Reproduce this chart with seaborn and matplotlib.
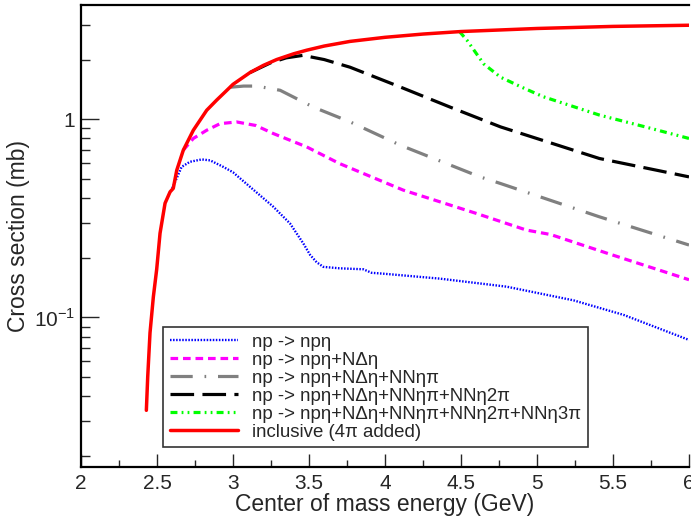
import numpy as np
import pandas as pd
import seaborn as sns
import matplotlib
matplotlib.use("Agg")
import matplotlib.pyplot as plt
from matplotlib.ticker import FixedLocator, FixedFormatter, LogLocator, NullFormatter, MultipleLocator

# values (x in GeV, y in mb)
red_x = [2.43, 2.439, 2.454, 2.476, 2.498, 2.52, 2.553, 2.586, 2.607, 2.63, 2.673,
         2.739, 2.827, 2.893, 2.947, 3.0, 3.112, 3.2, 3.287, 3.4, 3.485, 3.6, 3.77,
         4.0, 4.25, 4.5, 5.0, 5.5, 6.0]
red_y = [0.034, 0.0503, 0.0836, 0.127, 0.175, 0.266, 0.377, 0.43, 0.448, 0.553, 0.698,
         0.88, 1.11, 1.25, 1.37, 1.50, 1.72, 1.87, 2.0, 2.14, 2.23, 2.34, 2.47,
         2.59, 2.69, 2.77, 2.87, 2.94, 2.98]

blue_x = [2.60, 2.63, 2.662, 2.717, 2.794, 2.85, 2.936, 3.0, 3.112, 3.265, 3.375,
          3.463, 3.507, 3.55, 3.594, 3.70, 3.857, 3.912, 4.0, 4.36, 4.80, 5.24, 5.57, 6.0]
blue_y = [0.448, 0.505, 0.575, 0.61, 0.627, 0.62, 0.575, 0.54, 0.456, 0.362, 0.298,
          0.236, 0.207, 0.19, 0.18, 0.177, 0.175, 0.168, 0.166, 0.157, 0.143, 0.122, 0.103, 0.077]

mag_x = [2.673, 2.739, 2.827, 2.915, 3.024, 3.15, 3.265, 3.485, 3.70, 3.99, 4.12,
         4.60, 4.93, 5.09, 5.46, 6.0]
mag_y = [0.698, 0.80, 0.88, 0.95, 0.969, 0.93, 0.847, 0.725, 0.598, 0.483, 0.439,
         0.335, 0.276, 0.262, 0.211, 0.155]

gray_x = [2.98, 3.07, 3.155, 3.31, 3.53, 3.77, 4.1, 4.625, 4.76, 5.41, 6.0]
gray_y = [1.45, 1.47, 1.47, 1.4, 1.15, 0.97, 0.74, 0.512, 0.474, 0.322, 0.232]

black_x = [3.112, 3.25, 3.35, 3.46, 3.6, 3.77, 4.1, 4.43, 4.76, 5.41, 6.0]
black_y = [1.72, 1.93, 2.04, 2.1, 2.0, 1.83, 1.455, 1.15, 0.915, 0.634, 0.512]

green_x = [4.49, 4.54, 4.60, 4.65, 4.76, 4.9, 5.04, 5.41, 5.7, 6.0]
green_y = [2.77, 2.5, 2.15, 1.9, 1.63, 1.45, 1.3, 1.05, 0.92, 0.8]

labels = ["np -> npη",
          "np -> npη+NΔη",
          "np -> npη+NΔη+NNηπ",
          "np -> npη+NΔη+NNηπ+NNη2π",
          "np -> npη+NΔη+NNηπ+NNη2π+NNη3π",
          "inclusive (4π added)"]

sns.set_style("ticks")
plt.rcParams["font.family"] = ["Liberation Sans", "DejaVu Sans"]
plt.rcParams["mathtext.fontset"] = "custom"
plt.rcParams["mathtext.rm"] = "Liberation Sans"
plt.rcParams["lines.scale_dashes"] = False

fig = plt.figure(figsize=(6.91, 5.17), dpi=100)
ax = fig.add_axes([81 / 691, 50 / 517, 608 / 691, 462 / 517])

series = [
    (blue_x, blue_y, "#0000ff", 1.7, (0, (1.1, 1.1))),
    (mag_x, mag_y, "#ff00ff", 2.3, (0, (5.5, 3.5))),
    (gray_x, gray_y, "#808080", 2.3, (0, (16, 8.5, 1.2, 8.5))),
    (black_x, black_y, "#000000", 2.3, (0, (17, 6))),
    (green_x, green_y, "#00ff00", 2.3, (0, (5, 3, 1.3, 3, 1.3, 3))),
    (red_x, red_y, "#ff0000", 2.5, "-"),
]
for (xs, ys, col, lw, ls), lab in zip(series, labels):
    sns.lineplot(x=xs, y=ys, ax=ax, color=col, lw=lw, linestyle=ls,
                 label=lab, sort=False, estimator=None)

ax.set_yscale("log")
ax.set_xlim(2, 6)
ax.set_ylim(0.0176, 3.77)

ax.xaxis.set_minor_locator(MultipleLocator(0.25))
ax.set_xticks([2, 2.5, 3, 3.5, 4, 4.5, 5, 5.5, 6])
ax.set_xticklabels(["2", "2.5", "3", "3.5", "4", "4.5", "5", "5.5", "6"])

ax.yaxis.set_major_locator(FixedLocator([0.1, 1]))
ax.yaxis.set_major_formatter(FixedFormatter(["$10^{-1}$", "1"]))
ax.yaxis.set_minor_locator(LogLocator(base=10, subs=np.arange(2, 10)))
ax.yaxis.set_minor_formatter(NullFormatter())

ax.tick_params(axis="x", which="major", direction="in", length=9.4, width=1.0,
               labelsize=15, pad=5, top=False)
ax.tick_params(axis="x", which="minor", direction="in", length=5, width=1.0, top=False)
ax.tick_params(axis="y", which="major", direction="in", length=13.3, width=1.0,
               labelsize=15, pad=4, right=False)
ax.tick_params(axis="y", which="minor", direction="in", length=6.5, width=1.0, right=False)

for side in ["left", "bottom", "top"]:
    ax.spines[side].set_linewidth(1.6)
    ax.spines[side].set_color("black")
ax.spines["right"].set_visible(False)

ax.set_xlabel("Center of mass energy (GeV)", fontsize=16.5, labelpad=0)
ax.set_ylabel("Cross section (mb)", fontsize=16.5, labelpad=3)

leg = ax.legend(loc="lower left", bbox_to_anchor=(0.135, 0.043), borderaxespad=0,
                fontsize=13.4, frameon=True, fancybox=False, edgecolor="black",
                handlelength=3.7, handletextpad=0.75, labelspacing=0.05,
                borderpad=0.35)
leg.get_frame().set_linewidth(1.2)

fig.savefig("out.png", dpi=100)
